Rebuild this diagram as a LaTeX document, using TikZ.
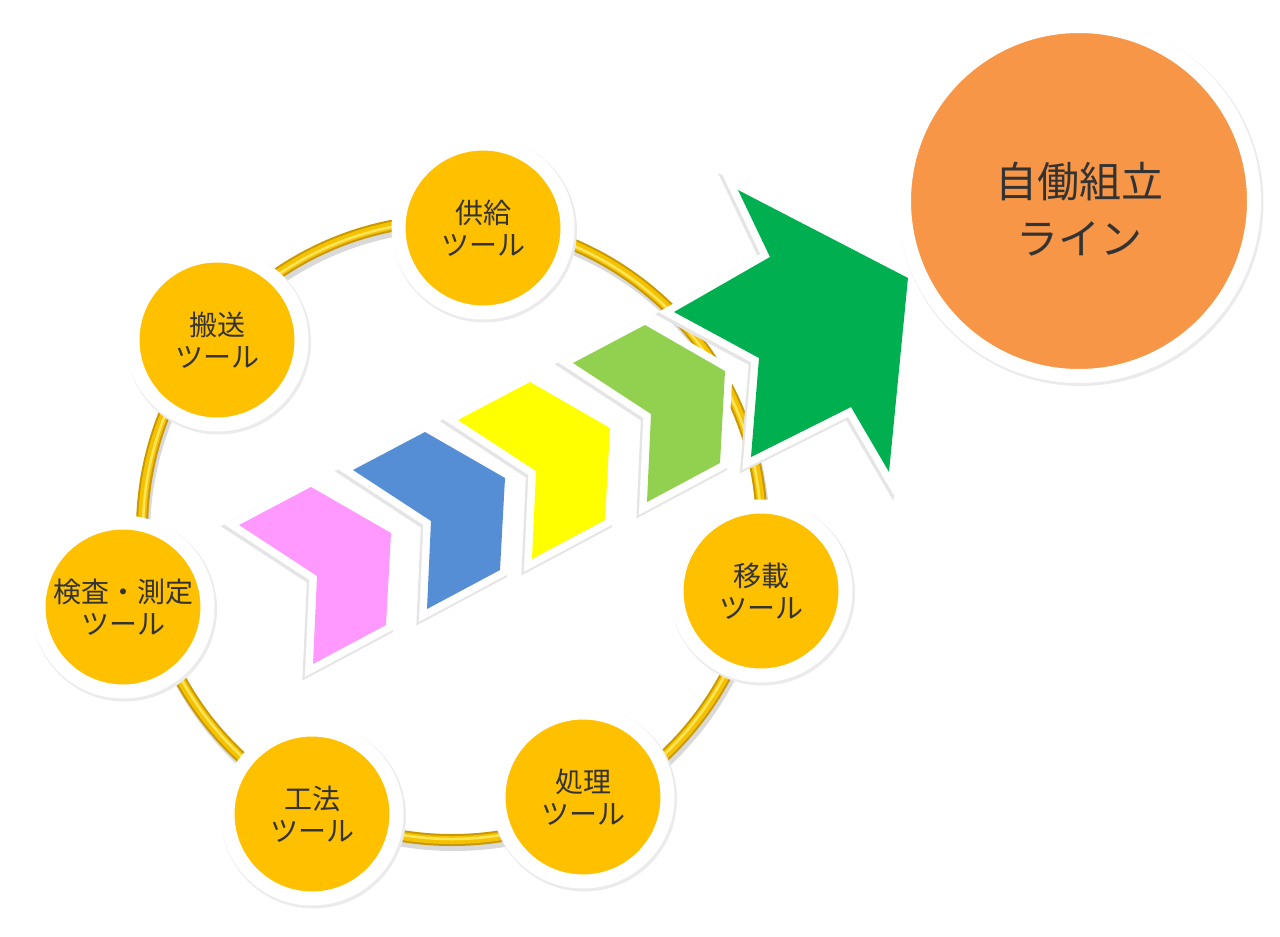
\documentclass[tikz,border=0pt]{standalone}
\usepackage{fontspec}
\setmainfont{Noto Sans CJK JP}

\definecolor{toolgold}{HTML}{FFC000}
\definecolor{goalorange}{HTML}{F79646}
\definecolor{chevpink}{HTML}{FF99FF}
\definecolor{chevblue}{HTML}{558ED5}
\definecolor{chevyellow}{HTML}{FFFF00}
\definecolor{chevlime}{HTML}{92D050}
\definecolor{arrowgreen}{HTML}{00B050}
\definecolor{ringdark}{HTML}{C99700}
\definecolor{ringgold}{HTML}{F5C200}
\definecolor{ringlight}{HTML}{FFE45A}

\tikzset{
  tool/.style={circle, fill=toolgold, draw=white, line width=14pt,
    minimum size=169pt, inner sep=0pt, align=center, text=black!80,
    font=\fontsize{28}{32}\selectfont,
    preaction={draw=black!8, line width=16pt, transform canvas={shift={(1.5pt,-2pt)}}}},
  goal/.style={tool, fill=goalorange, minimum size=350pt, text height=109pt,
    font=\fontsize{42}{57}\selectfont},
  chev/.style={fill=#1, line join=miter,
    preaction={draw=black!10, line width=17pt, transform canvas={shift={(-1.5pt,-2pt)}}},
    preaction={draw=white, line width=15pt}}
}

\begin{document}
\begin{tikzpicture}[x=1pt, y=-1pt]
  \useasboundingbox (0,0) rectangle (1280,937);
  % gold ring
  \coordinate (ring) at (452,530);
  \draw[black!15, line width=12pt] (454,535) circle (310pt);
  \draw[ringdark, line width=12pt] (ring) circle (310pt);
  \draw[ringgold, line width=8pt] (ring) circle (310pt);
  \draw[ringlight, line width=2.5pt] (ring) circle (309pt);

  % chevrons
  \foreach \col/\px/\py in {chevpink/239/525, chevblue/353/470, chevyellow/458/420, chevlime/573/363}
    \path[chev=\col, shift={(\px,\py)}] (0,0) -- (72,-38) -- (152,8) -- (147,100) -- (74,139) -- (78,51) -- cycle;

  % big arrow
  \path[chev=arrowgreen] (674,312) -- (770,257) -- (738,190) -- (908,278)
    -- (889,472) -- (851,407) -- (751,457) -- (759,358) -- cycle;

  % tools on the ring
  \node[tool] (kyokyu) at (483,228) {供給\\ツール};
  \node[tool] (hanso) at (217,340) {搬送\\ツール};
  \node[tool] (kensa) at (123,607) {検査・測定\\ツール};
  \node[tool] (koho) at (312,814) {工法\\ツール};
  \node[tool] (shori) at (583,797) {処理\\ツール};
  \node[tool] (isai) at (761,591) {移載\\ツール};

  \node[goal] (line) at (1079,201) {自働組立\\ライン};
\end{tikzpicture}
\end{document}
